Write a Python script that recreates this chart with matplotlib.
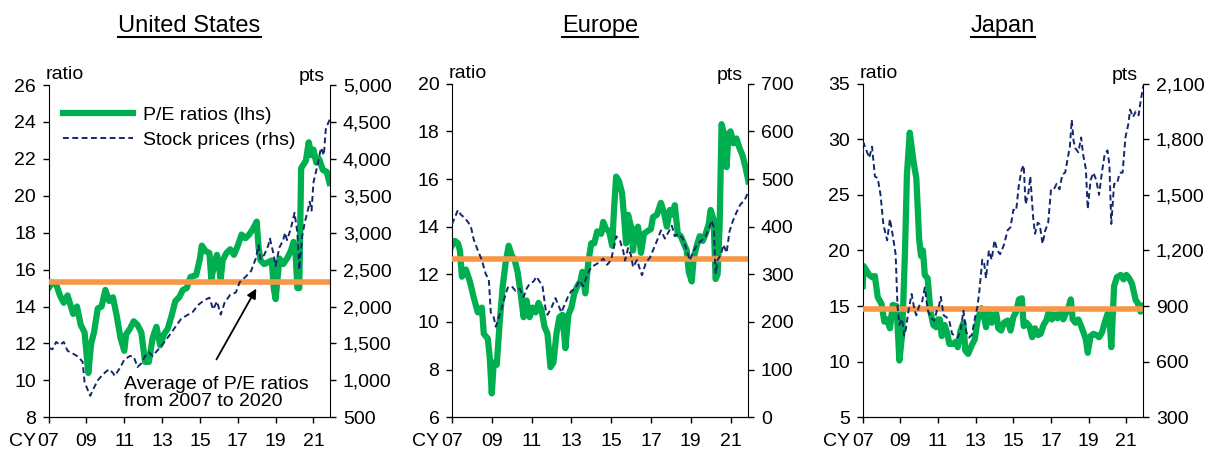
import matplotlib
matplotlib.use("Agg")
import matplotlib.pyplot as plt
from matplotlib.ticker import FuncFormatter
from matplotlib.lines import Line2D

plt.rcParams['font.family'] = ['Liberation Sans', 'DejaVu Sans']

GREEN = '#00B050'
NAVY = '#14286B'
ORANGE = '#F79646'
DASH = (0, (3, 1.8))

# ---- United States ----
us_pe_t = [2007.0, 2007.2, 2007.4, 2007.6, 2007.8, 2008.0, 2008.3, 2008.5, 2008.7, 2008.9,
           2009.0, 2009.1, 2009.25, 2009.4, 2009.6, 2009.8, 2010.0, 2010.2, 2010.4, 2010.6,
           2010.8, 2011.0, 2011.1, 2011.3, 2011.5, 2011.7, 2011.9, 2012.1, 2012.3, 2012.5,
           2012.7, 2012.9, 2013.1, 2013.3, 2013.5, 2013.7, 2013.9, 2014.1, 2014.3, 2014.5,
           2014.8, 2015.0, 2015.1, 2015.3, 2015.5, 2015.6, 2015.8, 2015.9, 2016.1, 2016.2,
           2016.4, 2016.6, 2016.8, 2017.0, 2017.2, 2017.4, 2017.6, 2017.8, 2018.0, 2018.1,
           2018.2, 2018.4, 2018.6, 2018.8, 2018.9, 2019.0, 2019.1, 2019.2, 2019.4, 2019.6,
           2019.8, 2019.95, 2020.05, 2020.15, 2020.25, 2020.35, 2020.6, 2020.75, 2020.9, 2021.0,
           2021.15, 2021.3, 2021.5, 2021.7, 2021.85]
us_pe = [15.0, 15.3, 15.2, 14.6, 14.2, 14.6, 13.6, 14.0, 13.0, 12.6,
         11.5, 10.4, 12.0, 12.6, 13.9, 14.0, 14.9, 14.3, 14.5, 13.5,
         12.3, 11.6, 12.5, 12.8, 13.2, 13.0, 12.6, 11.0, 11.0, 12.3,
         12.9, 11.9, 12.5, 12.8, 13.5, 14.3, 14.5, 14.9, 15.0, 15.6,
         15.7, 16.6, 17.3, 17.0, 16.9, 15.5, 16.5, 16.8, 15.5, 16.5,
         16.9, 17.1, 16.8, 17.3, 17.9, 17.7, 17.9, 18.2, 18.6, 17.2,
         16.5, 16.3, 16.4, 16.5, 15.0, 14.4, 15.5, 16.6, 16.3, 16.6,
         17.0, 17.5, 17.0, 15.0, 15.0, 21.5, 21.9, 22.9, 22.2, 22.5,
         21.8, 22.0, 21.4, 21.3, 20.7]
us_px_t = [2007.0, 2007.2, 2007.4, 2007.6, 2007.8, 2008.0, 2008.3, 2008.5, 2008.7, 2008.8,
           2008.9, 2009.1, 2009.2, 2009.4, 2009.6, 2009.8, 2010.0, 2010.2, 2010.4, 2010.5,
           2010.8, 2011.0, 2011.3, 2011.5, 2011.7, 2011.9, 2012.1, 2012.3, 2012.5, 2012.8,
           2013.0, 2013.3, 2013.5, 2013.8, 2014.0, 2014.3, 2014.6, 2014.9, 2015.2, 2015.5,
           2015.7, 2015.9, 2016.1, 2016.3, 2016.6, 2016.9, 2017.1, 2017.4, 2017.7, 2017.95,
           2018.1, 2018.2, 2018.4, 2018.6, 2018.7, 2018.9, 2019.0, 2019.2, 2019.4, 2019.5,
           2019.6, 2019.8, 2020.0, 2020.15, 2020.25, 2020.4, 2020.55, 2020.7, 2020.8, 2020.9,
           2021.0, 2021.2, 2021.4, 2021.55, 2021.65, 2021.8, 2021.9]
us_px = [1440, 1420, 1520, 1480, 1520, 1400, 1360, 1330, 1280, 1250,
         980, 850, 790, 900, 1000, 1060, 1110, 1150, 1100, 1060,
         1180, 1280, 1330, 1320, 1180, 1230, 1330, 1380, 1330, 1420,
         1480, 1580, 1650, 1760, 1830, 1880, 1920, 2020, 2080, 2120,
         1960, 2070, 1890, 2050, 2160, 2190, 2330, 2400, 2480, 2650,
         2830, 2640, 2700, 2820, 2920, 2700, 2550, 2800, 2900, 3000,
         2900, 3050, 3270, 3000, 2500, 2950, 3150, 3300, 3420, 3300,
         3680, 3900, 4150, 4050, 4400, 4500, 4550]
us_avg = 15.35

# ---- Europe ----
eu_pe_t = [2007.0, 2007.15, 2007.3, 2007.4, 2007.5, 2007.7, 2007.9, 2008.1, 2008.3, 2008.5,
           2008.6, 2008.8, 2008.9, 2009.0, 2009.1, 2009.25, 2009.4, 2009.55, 2009.7, 2009.85,
           2010.0, 2010.15, 2010.3, 2010.45, 2010.6, 2010.75, 2010.9, 2011.05, 2011.2, 2011.35,
           2011.5, 2011.65, 2011.8, 2011.95, 2012.1, 2012.25, 2012.4, 2012.55, 2012.7, 2012.85,
           2013.0, 2013.15, 2013.3, 2013.45, 2013.55, 2013.7, 2013.85, 2014.0, 2014.15, 2014.3,
           2014.5, 2014.6, 2014.75, 2014.9, 2015.05, 2015.15, 2015.25, 2015.4, 2015.55, 2015.65,
           2015.75, 2015.85, 2016.0, 2016.1, 2016.2, 2016.35, 2016.5, 2016.65, 2016.8, 2017.0,
           2017.1, 2017.3, 2017.5, 2017.65, 2017.8, 2017.95, 2018.1, 2018.2, 2018.35, 2018.5,
           2018.65, 2018.8, 2018.9, 2019.05, 2019.15, 2019.3, 2019.45, 2019.6, 2019.75, 2019.9,
           2020.0, 2020.15, 2020.25, 2020.35, 2020.45, 2020.55, 2020.7, 2020.8, 2020.9, 2021.0,
           2021.15, 2021.3, 2021.45, 2021.6, 2021.75, 2021.9]
eu_pe = [13.2, 13.4, 13.3, 13.0, 11.9, 12.2, 11.7, 11.0, 10.4, 10.6,
         9.5, 9.3, 8.5, 7.0, 8.3, 8.2, 10.0, 11.5, 12.5, 13.2,
         12.8, 12.6, 12.1, 11.2, 10.2, 10.9, 10.2, 10.6, 10.4, 10.8,
         10.5, 9.8, 9.5, 8.1, 8.3, 9.5, 10.2, 10.3, 8.9, 10.3,
         10.6, 11.2, 11.5, 11.7, 12.1, 11.2, 12.5, 13.3, 13.3, 13.8,
         13.7, 14.2, 13.9, 13.8, 13.2, 14.8, 16.1, 15.9, 15.4, 14.4,
         13.3, 14.5, 14.0, 13.0, 13.8, 14.0, 12.9, 13.7, 13.8, 13.9,
         14.4, 14.5, 15.0, 14.6, 14.0, 14.7, 14.5, 14.9, 13.7, 13.6,
         13.3, 13.0, 12.1, 11.7, 12.7, 13.2, 13.6, 13.4, 13.7, 14.1,
         14.7, 14.3, 11.8, 12.0, 14.0, 18.3, 17.8, 16.5, 17.9, 18.0,
         17.5, 17.7, 17.3, 17.0, 16.5, 15.9]
eu_px_t = [2007.0, 2007.15, 2007.3, 2007.45, 2007.6, 2007.8, 2007.95, 2008.1, 2008.3, 2008.5,
           2008.7, 2008.85, 2008.95, 2009.1, 2009.2, 2009.4, 2009.6, 2009.8, 2010.0, 2010.2,
           2010.4, 2010.6, 2010.75, 2010.9, 2011.1, 2011.25, 2011.4, 2011.55, 2011.7, 2011.8,
           2012.0, 2012.2, 2012.4, 2012.5, 2012.7, 2012.85, 2013.0, 2013.2, 2013.4, 2013.6,
           2013.8, 2014.0, 2014.2, 2014.4, 2014.6, 2014.8, 2015.0, 2015.25, 2015.45, 2015.6,
           2015.7, 2015.85, 2016.0, 2016.1, 2016.3, 2016.45, 2016.55, 2016.75, 2016.95, 2017.1,
           2017.3, 2017.5, 2017.7, 2017.9, 2018.05, 2018.2, 2018.4, 2018.6, 2018.8, 2018.95,
           2019.1, 2019.3, 2019.5, 2019.7, 2019.9, 2020.05, 2020.15, 2020.25, 2020.35, 2020.5,
           2020.65, 2020.8, 2020.95, 2021.1, 2021.3, 2021.5, 2021.7, 2021.85]
eu_px = [405, 420, 435, 425, 420, 410, 400, 372, 350, 330,
         300, 290, 220, 210, 190, 215, 245, 272, 275, 265,
         270, 252, 270, 280, 285, 295, 285, 275, 228, 215,
         230, 250, 230, 220, 240, 255, 265, 270, 287, 275,
         300, 315, 320, 325, 333, 320, 330, 380, 370, 350,
         329, 355, 340, 315, 330, 310, 298, 325, 335, 350,
         370, 392, 375, 390, 402, 380, 385, 375, 350, 329,
         345, 360, 370, 375, 395, 413, 400, 301, 330, 340,
         362, 345, 390, 410, 430, 447, 455, 469]
eu_avg = 12.65

# ---- Japan ----
jp_pe_t = [2007.0, 2007.05, 2007.2, 2007.35, 2007.5, 2007.65, 2007.8, 2008.0, 2008.15, 2008.3,
           2008.45, 2008.6, 2008.8, 2008.95, 2009.1, 2009.25, 2009.35, 2009.5, 2009.7, 2009.85,
           2010.0, 2010.1, 2010.2, 2010.3, 2010.45, 2010.6, 2010.75, 2010.9, 2011.0, 2011.1,
           2011.2, 2011.35, 2011.5, 2011.6, 2011.8, 2011.95, 2012.05, 2012.2, 2012.35, 2012.45,
           2012.6, 2012.8, 2012.95, 2013.1, 2013.3, 2013.45, 2013.55, 2013.7, 2013.85, 2014.0,
           2014.1, 2014.2, 2014.35, 2014.5, 2014.7, 2014.85, 2015.0, 2015.15, 2015.3, 2015.45,
           2015.55, 2015.7, 2015.85, 2016.0, 2016.15, 2016.3, 2016.45, 2016.6, 2016.75, 2016.9,
           2017.05, 2017.2, 2017.35, 2017.5, 2017.65, 2017.8, 2017.95, 2018.05, 2018.15, 2018.3,
           2018.45, 2018.6, 2018.75, 2018.85, 2018.95, 2019.1, 2019.25, 2019.4, 2019.55, 2019.7,
           2019.85, 2020.0, 2020.1, 2020.2, 2020.35, 2020.5, 2020.7, 2020.85, 2021.0, 2021.15,
           2021.3, 2021.5, 2021.6, 2021.75, 2021.9]
jp_pe = [16.8, 18.6, 18.2, 17.8, 17.6, 17.7, 15.8, 15.2, 13.6, 13.8,
         13.0, 15.1, 15.0, 10.1, 12.5, 20.0, 26.8, 30.6, 28.0, 26.5,
         21.0, 19.5, 20.0, 17.8, 17.5, 14.5, 13.3, 13.1, 13.8, 13.8,
         12.3, 13.3, 12.5, 11.6, 11.6, 11.8, 11.3, 12.8, 13.5, 11.0,
         10.7, 11.5, 12.0, 13.7, 14.8, 14.0, 13.1, 14.7, 13.5, 14.2,
         14.3, 13.0, 12.8, 13.5, 13.7, 12.8, 14.0, 14.5, 15.6, 15.7,
         13.2, 13.5, 13.2, 12.2, 13.0, 12.4, 12.5, 13.3, 13.7, 14.6,
         13.8, 14.2, 13.9, 14.5, 13.8, 14.4, 15.0, 15.6, 13.8, 13.5,
         13.8, 13.2, 12.5, 12.0, 10.8, 12.3, 12.5, 12.4, 12.2, 12.6,
         13.5, 14.3, 14.0, 11.3, 16.8, 17.6, 17.8, 17.4, 17.8, 17.5,
         17.0, 15.5, 15.3, 14.5, 15.0]
jp_px_t = [2007.0, 2007.05, 2007.2, 2007.35, 2007.5, 2007.65, 2007.8, 2007.95, 2008.1, 2008.3,
           2008.45, 2008.6, 2008.75, 2008.85, 2008.95, 2009.1, 2009.2, 2009.3, 2009.45, 2009.6,
           2009.75, 2009.85, 2010.0, 2010.15, 2010.3, 2010.45, 2010.6, 2010.8, 2010.95, 2011.05,
           2011.15, 2011.3, 2011.45, 2011.6, 2011.75, 2011.9, 2012.05, 2012.2, 2012.35, 2012.5,
           2012.65, 2012.8, 2012.95, 2013.1, 2013.2, 2013.35, 2013.45, 2013.55, 2013.7, 2013.85,
           2014.0, 2014.15, 2014.3, 2014.5, 2014.7, 2014.85, 2015.0, 2015.15, 2015.3, 2015.45,
           2015.55, 2015.65, 2015.8, 2015.9, 2016.05, 2016.15, 2016.3, 2016.4, 2016.55, 2016.7,
           2016.85, 2017.0, 2017.15, 2017.3, 2017.45, 2017.6, 2017.75, 2018.0, 2018.1, 2018.2,
           2018.3, 2018.45, 2018.6, 2018.7, 2018.85, 2018.95, 2019.1, 2019.25, 2019.4, 2019.55,
           2019.7, 2019.85, 2020.0, 2020.1, 2020.2, 2020.35, 2020.5, 2020.65, 2020.8, 2020.95,
           2021.1, 2021.2, 2021.35, 2021.5, 2021.65, 2021.75, 2021.9]
jp_px = [1720, 1780, 1740, 1700, 1760, 1600, 1590, 1500, 1340, 1255,
         1370, 1280, 1180, 900, 800, 830, 740, 780, 885, 965,
         880, 850, 900, 920, 1000, 880, 840, 820, 880, 900,
         950, 850, 840, 820, 750, 740, 730, 770, 875, 760,
         730, 745, 830, 900, 985, 1150, 1130, 1050, 1200, 1150,
         1255, 1200, 1180, 1230, 1310, 1325, 1420, 1415, 1560, 1640,
         1660, 1450, 1510, 1600, 1380, 1290, 1350, 1340, 1236, 1310,
         1350, 1530, 1530, 1560, 1530, 1610, 1620, 1760, 1905, 1790,
         1750, 1730, 1810, 1720, 1640, 1424, 1580, 1620, 1580, 1500,
         1620, 1720, 1740, 1660, 1343, 1560, 1560, 1620, 1620, 1810,
         1880, 1960, 1920, 1950, 1930, 2000, 2090]
jp_avg = 14.7

year_ticks = [2007, 2009, 2011, 2013, 2015, 2017, 2019, 2021]
year_labels = ['07', '09', '11', '13', '15', '17', '19', '21']

panels = [
    dict(title='United States', pos=[0.040, 0.083, 0.232, 0.730],
         pe_t=us_pe_t, pe=us_pe, px_t=us_px_t, px=us_px, avg=us_avg,
         ylim=(8, 26), yticks=range(8, 27, 2), y2lim=(500, 5000), y2ticks=range(500, 5001, 500)),
    dict(title='Europe', pos=[0.372, 0.083, 0.244, 0.733],
         pe_t=eu_pe_t, pe=eu_pe, px_t=eu_px_t, px=eu_px, avg=eu_avg,
         ylim=(6, 20), yticks=range(6, 21, 2), y2lim=(0, 700), y2ticks=range(0, 701, 100)),
    dict(title='Japan', pos=[0.710, 0.083, 0.231, 0.733],
         pe_t=jp_pe_t, pe=jp_pe, px_t=jp_px_t, px=jp_px, avg=jp_avg,
         ylim=(5, 35), yticks=range(5, 36, 5), y2lim=(300, 2100), y2ticks=range(300, 2101, 300)),
]

FS = 14
fig = plt.figure(figsize=(12.15, 4.55), dpi=100)
comma = FuncFormatter(lambda v, p: f'{int(v):,}')
titles = []

for i, p in enumerate(panels):
    ax = fig.add_axes(p['pos'])
    ax2 = ax.twinx()
    ax.plot(p['pe_t'], p['pe'], color=GREEN, lw=4.5, solid_joinstyle='round', zorder=2)
    ax.axhline(p['avg'], color=ORANGE, lw=4, zorder=3)
    ax2.plot(p['px_t'], p['px'], color=NAVY, lw=1.4, ls=DASH, zorder=4)

    ax.set_xlim(2007, 2021.9)
    ax.set_ylim(*p['ylim'])
    ax.set_yticks(list(p['yticks']))
    ax2.set_ylim(*p['y2lim'])
    ax2.set_yticks(list(p['y2ticks']))
    ax2.yaxis.set_major_formatter(comma)
    ax.set_xticks(year_ticks)
    ax.set_xticklabels(year_labels)

    for a in (ax, ax2):
        a.spines['top'].set_visible(False)
        a.tick_params(labelsize=FS, length=4, width=1, direction='out', pad=5, colors='black')
    ax.spines['right'].set_visible(False)
    ax2.spines['left'].set_visible(False)
    ax.tick_params(axis='x', pad=7)

    ax.annotate('CY', xy=(0, 0), xycoords='axes fraction', xytext=(-9, -11),
                textcoords='offset points', ha='right', va='top', fontsize=FS)
    ax.text(-0.01, 1.005, 'ratio', transform=ax.transAxes, ha='left', va='bottom', fontsize=FS)
    ax.text(0.98, 1.0, 'pts', transform=ax.transAxes, ha='right', va='bottom', fontsize=FS)

    cx = p['pos'][0] + p['pos'][2] / 2
    titles.append(fig.text(cx, 0.93, p['title'], ha='center', va='baseline', fontsize=17))

    if i == 0:
        handles = [Line2D([], [], color=GREEN, lw=4.5),
                   Line2D([], [], color=NAVY, lw=1.4, ls=DASH)]
        ax2.legend(handles, ['P/E ratios (lhs)', 'Stock prices (rhs)'], loc='upper left',
                   bbox_to_anchor=(-0.01, 0.99), frameon=False, fontsize=FS,
                   handlelength=3.6, handletextpad=0.5, labelspacing=0.4)
        ax.annotate('', xy=(2018.05, 15.1), xytext=(2015.8, 11.0),
                    arrowprops=dict(arrowstyle='-|>', color='black', lw=1.3,
                                    mutation_scale=14))
        ax.text(2011.0, 9.3, 'Average of P/E ratios\nfrom 2007 to 2020', ha='left',
                va='center', fontsize=FS, linespacing=1.0, zorder=6)

# underline the panel titles
fig.canvas.draw()
r = fig.canvas.get_renderer()
for t in titles:
    bb = t.get_window_extent(r).transformed(fig.transFigure.inverted())
    fig.add_artist(Line2D([bb.x0, bb.x1], [0.918, 0.918], color='black', lw=1.5,
                          transform=fig.transFigure))

fig.savefig('out.png', dpi=100)
